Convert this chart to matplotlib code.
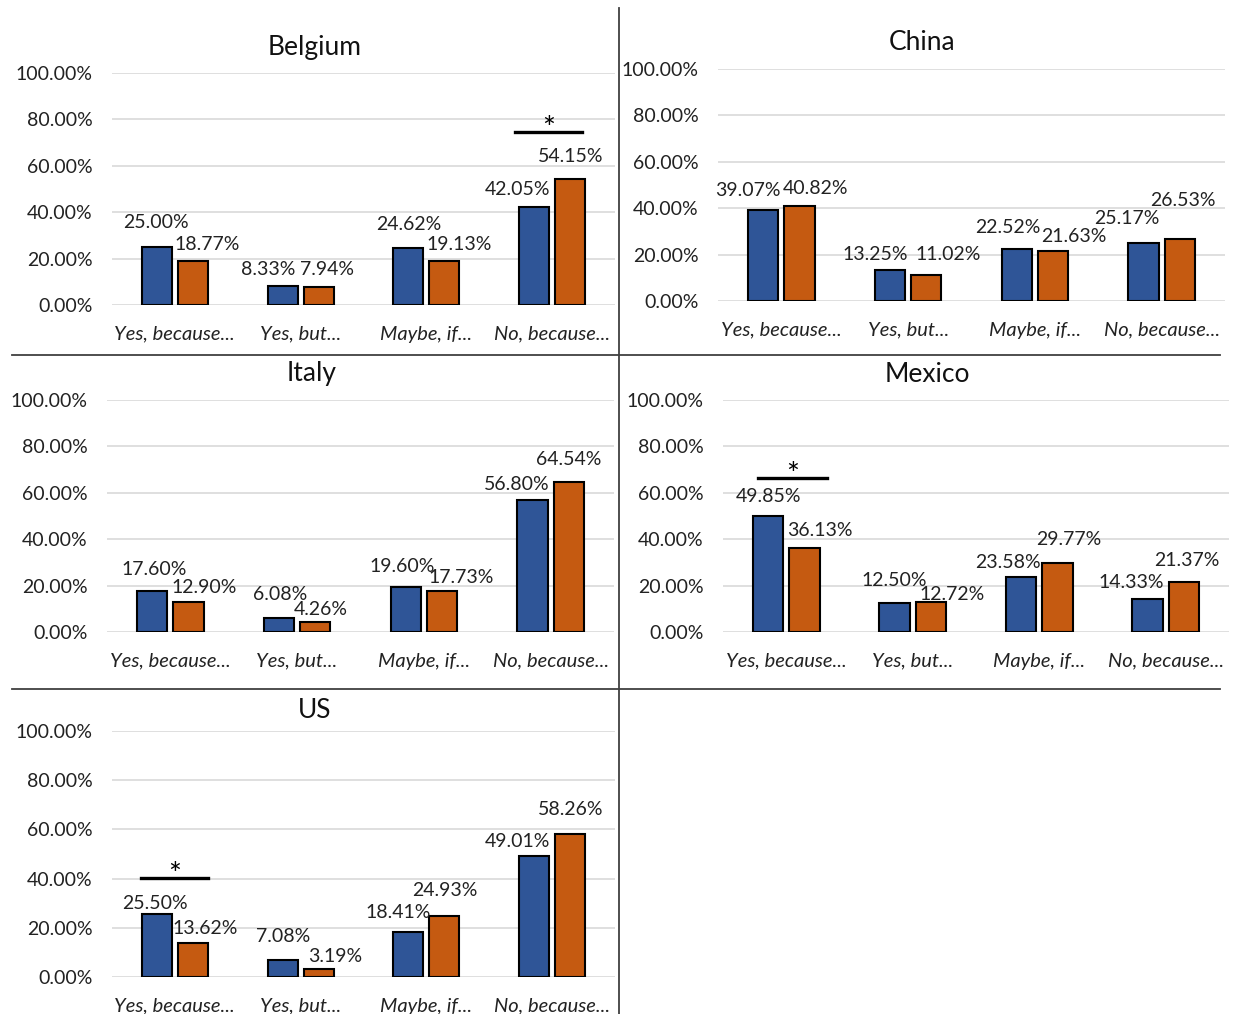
import matplotlib
matplotlib.use("Agg")
import matplotlib.pyplot as plt
from matplotlib.lines import Line2D

plt.rcParams['font.family'] = ['Lato', 'DejaVu Sans']

categories = ["Yes, because...", "Yes, but...", "Maybe, if...", "No, because..."]
countries = ["Belgium", "China", "Italy", "Mexico", "US"]

belgium_blue = [25.00, 8.33, 24.62, 42.05]
belgium_orange = [18.77, 7.94, 19.13, 54.15]
china_blue = [39.07, 13.25, 22.52, 25.17]
china_orange = [40.82, 11.02, 21.63, 26.53]
italy_blue = [17.60, 6.08, 19.60, 56.80]
italy_orange = [12.90, 4.26, 17.73, 64.54]
mexico_blue = [49.85, 12.50, 23.58, 14.33]
mexico_orange = [36.13, 12.72, 29.77, 21.37]
us_blue = [25.50, 7.08, 18.41, 49.01]
us_orange = [13.62, 3.19, 24.93, 58.26]

yticks = [0, 20, 40, 60, 80, 100]

# significance: country -> category index and line height in %
sig_category = {"Belgium": 3, "Mexico": 0, "US": 0}
sig_height = {"Belgium": 74.6, "Mexico": 66.2, "US": 40.2}

data = {
    "Belgium": (belgium_blue, belgium_orange),
    "China": (china_blue, china_orange),
    "Italy": (italy_blue, italy_orange),
    "Mexico": (mexico_blue, mexico_orange),
    "US": (us_blue, us_orange),
}

# ---- layout (pixels) ----
W, H = 1237, 1014
boxes = {
    "Belgium": (112, 615, 73, 305),
    "China": (718, 1225, 69, 301),
    "Italy": (107, 614, 400, 632),
    "Mexico": (723, 1229, 400, 632),
    "US": (112, 615, 731, 977),
}
title_pos = {"Belgium": (315, 47), "China": (922, 42), "Italy": (312, 374),
             "Mexico": (927, 374), "US": (315, 711)}
blue_off = {
    "Belgium": [(-1, 24), (-14, 16), (0, 23), (-17, 18)],
    "China": [(-15, 20), (-15, 16), (-9, 21), (-17, 24)],
    "Italy": [(2, 22), (1, 23), (-4, 20), (-16, 16)],
    "Mexico": [(0, 20), (0, 23), (-13, 15), (-16, 16)],
    "US": [(-2, 11), (0, 23), (-10, 19), (-17, 15)],
}
orange_off = {
    "Belgium": [(14, 17), (8, 17), (15, 16), (1, 23)],
    "China": [(16, 18), (22, 21), (21, 14), (3, 39)],
    "Italy": [(16, 15), (6, 13), (19, 13), (0, 23)],
    "Mexico": [(16, 18), (21, 8), (11, 23), (3, 22)],
    "US": [(12, 15), (17, 13), (0, 25), (1, 24)],
}
sig_span = {"Belgium": (-0.294, 0.239), "Mexico": (-0.223, 0.322), "US": (-0.27, 0.265)}

BLUE = "#2F5597"
ORANGE = "#C55A11"
FS_TICK = 14
FS_CAT = 14.5
FS_LAB = 14
FS_TITLE = 19

fig = plt.figure(figsize=(W / 100, H / 100), dpi=100)

bw = 0.24
off = 0.143
for c in countries:
    x0, x1, yt, yb = boxes[c]
    ax = fig.add_axes([x0 / W, 1 - yb / H, (x1 - x0) / W, (yb - yt) / H])
    blue, orange = data[c]
    xs = list(range(len(categories)))
    ax.bar([x - off for x in xs], blue, width=bw, color=BLUE, edgecolor="black", linewidth=1.5, zorder=3)
    ax.bar([x + off for x in xs], orange, width=bw, color=ORANGE, edgecolor="black", linewidth=1.5, zorder=3)
    ax.set_xlim(-0.5, 3.5)
    ax.set_ylim(0, 100)
    ax.set_yticks(yticks)
    ax.set_yticklabels([f"{t:.2f}%" for t in yticks], fontsize=FS_TICK, color="#222222")
    ax.set_xticks(xs)
    ax.set_xticklabels(categories, fontsize=FS_CAT, style="italic", color="#222222")
    ax.tick_params(axis="y", length=0, pad=14)
    ax.tick_params(axis="x", length=0, pad=15)
    ax.grid(axis="y", color="#D9D9D9", linewidth=1.2, zorder=0)
    ax.set_axisbelow(True)
    for s in ax.spines.values():
        s.set_visible(False)
    for i, x in enumerate(xs):
        dx, dy = blue_off[c][i]
        ax.annotate(f"{blue[i]:.2f}%", xy=(x - off, blue[i]), xytext=(dx, dy),
                    textcoords="offset pixels", ha="center", va="center", fontsize=FS_LAB,
                    color="#222222", zorder=5)
        dx, dy = orange_off[c][i]
        ax.annotate(f"{orange[i]:.2f}%", xy=(x + off, orange[i]), xytext=(dx, dy),
                    textcoords="offset pixels", ha="center", va="center", fontsize=FS_LAB,
                    color="#222222", zorder=5)
    if c in sig_category:
        k = sig_category[c]
        h = sig_height[c]
        a, b = sig_span[c]
        ax.plot([k + a, k + b], [h, h], color="black", linewidth=2.4, clip_on=False, zorder=6)
        ax.annotate("*", xy=((k + (a + b) / 2), h), xytext=(0, 3), textcoords="offset pixels",
                    ha="center", va="center", fontsize=22, zorder=6)
    tx, ty = title_pos[c]
    fig.text(tx / W, 1 - ty / H, c, ha="center", va="center", fontsize=FS_TITLE, color="#111111")


def fline(xa, ya, xb, yb):
    fig.add_artist(Line2D([xa / W, xb / W], [1 - ya / H, 1 - yb / H], color="#404040", linewidth=1.3))


fline(619, 8, 619, 1014)
fline(12, 355, 1220, 355)
fline(12, 689, 1220, 689)

fig.savefig("out.png", dpi=100)
